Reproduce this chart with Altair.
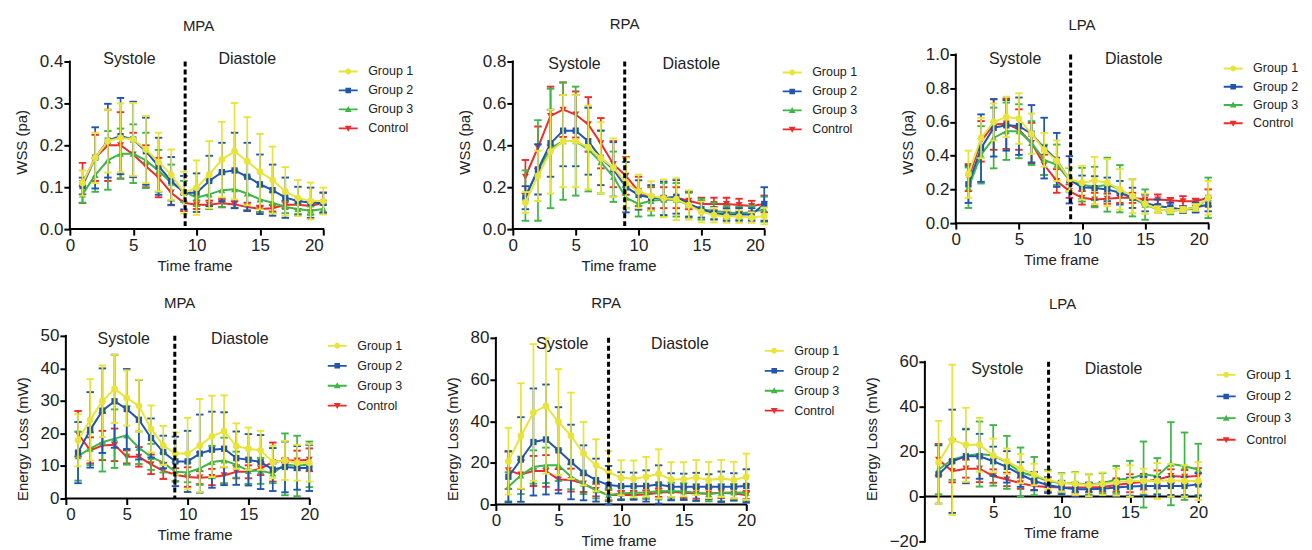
import altair as alt
import pandas as pd

FONT = "Liberation Sans"
TXT = "#222222"

FRAMES = list(range(1, 21))
SERIES = ["Group 1", "Group 2", "Group 3", "Control"]
COLORS = ["#E8E43C", "#2256AE", "#3FB548", "#EE2B2B"]
SHAPES = ["circle", "square", "triangle-up", "triangle-down"]
SIZES = [46, 40, 50, 50]

# ---------------- WSS, MPA ----------------
wss_mpa_g1 = [0.110, 0.170, 0.210, 0.218, 0.214, 0.190, 0.160, 0.130, 0.087, 0.099, 0.130, 0.166, 0.186, 0.162, 0.137, 0.117, 0.090, 0.074, 0.067, 0.067]
wss_mpa_g1_sd = [0.030, 0.060, 0.075, 0.082, 0.087, 0.080, 0.070, 0.060, 0.050, 0.065, 0.080, 0.090, 0.115, 0.105, 0.090, 0.080, 0.058, 0.043, 0.044, 0.032]
wss_mpa_g2 = [0.103, 0.170, 0.211, 0.222, 0.214, 0.186, 0.150, 0.115, 0.087, 0.087, 0.115, 0.136, 0.140, 0.125, 0.107, 0.093, 0.075, 0.067, 0.063, 0.063]
wss_mpa_g2_sd = [0.020, 0.073, 0.088, 0.091, 0.090, 0.080, 0.068, 0.057, 0.040, 0.046, 0.060, 0.070, 0.090, 0.081, 0.071, 0.061, 0.048, 0.034, 0.036, 0.024]
wss_mpa_g3 = [0.083, 0.129, 0.164, 0.180, 0.180, 0.164, 0.139, 0.111, 0.090, 0.075, 0.083, 0.093, 0.095, 0.085, 0.071, 0.063, 0.053, 0.048, 0.044, 0.048]
wss_mpa_g3_sd = [0.020, 0.040, 0.070, 0.060, 0.070, 0.066, 0.050, 0.043, 0.025, 0.020, 0.035, 0.040, 0.045, 0.040, 0.030, 0.025, 0.015, 0.012, 0.010, 0.010]
wss_mpa_ctl = [0.110, 0.170, 0.200, 0.200, 0.178, 0.150, 0.123, 0.087, 0.063, 0.058, 0.058, 0.062, 0.059, 0.053, 0.048, 0.050, 0.058, 0.058, 0.055, 0.063]
wss_mpa_ctl_sd = [0.048, 0.055, 0.085, 0.079, 0.052, 0.050, 0.047, 0.030, 0.020, 0.010, 0.010, 0.010, 0.008, 0.010, 0.008, 0.008, 0.008, 0.010, 0.010, 0.024]

# ---------------- WSS, RPA ----------------
wss_rpa_g1 = [0.127, 0.254, 0.370, 0.420, 0.420, 0.390, 0.340, 0.293, 0.220, 0.180, 0.158, 0.147, 0.143, 0.115, 0.082, 0.067, 0.060, 0.060, 0.055, 0.063]
wss_rpa_g1_sd = [0.050, 0.120, 0.200, 0.220, 0.220, 0.200, 0.170, 0.140, 0.120, 0.080, 0.070, 0.090, 0.100, 0.070, 0.050, 0.035, 0.030, 0.030, 0.025, 0.040]
wss_rpa_g2 = [0.150, 0.285, 0.410, 0.470, 0.470, 0.420, 0.340, 0.285, 0.200, 0.163, 0.150, 0.147, 0.154, 0.120, 0.095, 0.076, 0.070, 0.070, 0.070, 0.120]
wss_rpa_g2_sd = [0.055, 0.120, 0.160, 0.170, 0.170, 0.160, 0.130, 0.130, 0.120, 0.070, 0.060, 0.080, 0.080, 0.060, 0.040, 0.030, 0.030, 0.030, 0.030, 0.080]
wss_rpa_g3 = [0.160, 0.280, 0.385, 0.420, 0.420, 0.380, 0.320, 0.250, 0.150, 0.120, 0.135, 0.140, 0.140, 0.115, 0.095, 0.087, 0.080, 0.076, 0.080, 0.095]
wss_rpa_g3_sd = [0.120, 0.240, 0.285, 0.280, 0.260, 0.200, 0.150, 0.120, 0.050, 0.060, 0.070, 0.080, 0.080, 0.060, 0.050, 0.040, 0.030, 0.030, 0.030, 0.060]
wss_rpa_ctl = [0.250, 0.390, 0.540, 0.570, 0.547, 0.500, 0.410, 0.310, 0.254, 0.180, 0.150, 0.150, 0.150, 0.135, 0.120, 0.120, 0.120, 0.115, 0.110, 0.120]
wss_rpa_ctl_sd = [0.080, 0.100, 0.140, 0.130, 0.110, 0.130, 0.120, 0.110, 0.090, 0.070, 0.050, 0.050, 0.050, 0.040, 0.030, 0.030, 0.030, 0.030, 0.025, 0.040]

# ---------------- WSS, LPA ----------------
wss_lpa_g1 = [0.290, 0.505, 0.600, 0.630, 0.620, 0.530, 0.435, 0.370, 0.260, 0.240, 0.253, 0.240, 0.200, 0.160, 0.115, 0.080, 0.075, 0.080, 0.093, 0.150]
wss_lpa_g1_sd = [0.140, 0.120, 0.110, 0.120, 0.150, 0.120, 0.100, 0.120, 0.070, 0.100, 0.140, 0.140, 0.120, 0.100, 0.060, 0.020, 0.015, 0.015, 0.020, 0.100]
wss_lpa_g2 = [0.230, 0.445, 0.565, 0.580, 0.575, 0.530, 0.445, 0.375, 0.257, 0.212, 0.208, 0.200, 0.180, 0.150, 0.120, 0.100, 0.093, 0.080, 0.093, 0.110]
wss_lpa_g2_sd = [0.110, 0.200, 0.170, 0.150, 0.170, 0.170, 0.180, 0.160, 0.140, 0.070, 0.070, 0.070, 0.070, 0.060, 0.050, 0.040, 0.030, 0.020, 0.030, 0.040]
wss_lpa_g3 = [0.210, 0.405, 0.505, 0.545, 0.545, 0.475, 0.375, 0.346, 0.257, 0.228, 0.214, 0.228, 0.204, 0.150, 0.110, 0.080, 0.073, 0.080, 0.085, 0.150]
wss_lpa_g3_sd = [0.120, 0.170, 0.180, 0.170, 0.160, 0.130, 0.090, 0.120, 0.070, 0.100, 0.120, 0.160, 0.140, 0.110, 0.090, 0.020, 0.020, 0.015, 0.020, 0.120]
wss_lpa_ctl = [0.270, 0.485, 0.585, 0.590, 0.555, 0.475, 0.346, 0.250, 0.190, 0.150, 0.140, 0.145, 0.150, 0.150, 0.140, 0.140, 0.135, 0.130, 0.130, 0.150]
wss_lpa_ctl_sd = [0.080, 0.120, 0.150, 0.150, 0.120, 0.120, 0.060, 0.070, 0.040, 0.040, 0.040, 0.030, 0.030, 0.030, 0.030, 0.030, 0.015, 0.030, 0.015, 0.050]

# ---------------- Energy loss, MPA ----------------
el_mpa_g1 = [17.9, 24.2, 29.9, 33.7, 30.9, 28.5, 21.4, 16.3, 13.8, 13.8, 16.3, 19.1, 20.7, 16.1, 15.3, 14.8, 11.2, 11.7, 11.0, 11.0]
el_mpa_g1_sd = [8.0, 12.5, 11.0, 10.5, 8.5, 8.0, 7.2, 6.0, 6.5, 11.0, 14.3, 12.5, 11.0, 7.0, 6.5, 6.0, 5.0, 6.0, 5.5, 5.8]
el_mpa_g2 = [14.1, 21.1, 27.0, 29.9, 27.5, 24.2, 18.6, 14.3, 11.4, 11.4, 13.8, 15.0, 15.3, 12.4, 11.9, 11.2, 8.9, 9.7, 9.4, 9.4]
el_mpa_g2_sd = [9.4, 11.6, 13.0, 14.3, 12.3, 12.2, 6.0, 5.0, 7.6, 9.4, 12.0, 11.7, 11.2, 8.2, 7.9, 8.3, 6.6, 7.8, 6.7, 7.1]
el_mpa_g3 = [13.0, 15.3, 17.3, 18.4, 19.4, 15.6, 12.8, 11.0, 8.2, 8.0, 9.2, 11.2, 11.7, 10.4, 8.5, 8.5, 7.7, 10.5, 10.0, 10.5]
el_mpa_g3_sd = [7.5, 5.0, 9.0, 9.0, 9.0, 5.0, 4.0, 3.0, 3.0, 3.0, 5.0, 5.0, 7.0, 4.0, 4.0, 4.0, 3.0, 9.5, 9.3, 7.0]
el_mpa_ctl = [19.9, 14.8, 16.3, 16.5, 12.8, 12.8, 10.5, 8.5, 7.3, 6.6, 6.4, 6.6, 7.1, 8.2, 8.2, 9.2, 11.2, 11.7, 11.7, 11.9]
el_mpa_ctl_sd = [7.0, 4.0, 4.5, 5.0, 2.0, 3.0, 3.0, 2.5, 2.0, 3.0, 2.0, 2.5, 2.5, 2.0, 2.0, 2.0, 6.0, 0.6, 3.0, 3.5]

# ---------------- Energy loss, RPA ----------------
el_rpa_g1 = [20.8, 32.9, 44.2, 47.3, 39.6, 33.0, 24.4, 18.8, 15.6, 12.8, 12.3, 13.3, 14.7, 12.0, 12.1, 12.9, 11.7, 12.5, 11.7, 13.3]
el_rpa_g1_sd = [16.0, 25.3, 32.8, 32.5, 25.4, 20.7, 15.2, 12.5, 10.0, 8.4, 8.8, 9.5, 11.8, 8.3, 8.2, 8.4, 8.7, 8.9, 8.8, 11.1]
el_rpa_g2 = [13.3, 21.6, 30.0, 31.2, 26.0, 20.4, 15.2, 11.7, 9.3, 8.8, 8.8, 8.9, 9.6, 8.5, 8.5, 8.5, 8.5, 8.5, 8.5, 8.9]
el_rpa_g2_sd = [12.3, 20.3, 25.7, 26.4, 20.7, 17.9, 13.2, 10.3, 9.2, 6.7, 6.5, 7.5, 9.2, 6.5, 6.3, 6.7, 6.0, 7.3, 6.5, 8.0]
el_rpa_g3 = [8.5, 14.0, 18.0, 18.8, 18.8, 13.3, 10.0, 6.9, 4.5, 5.3, 5.6, 5.8, 6.4, 6.5, 6.2, 5.6, 5.0, 5.6, 5.8, 5.6]
el_rpa_g3_sd = [7.0, 9.0, 8.0, 8.5, 7.5, 6.0, 5.0, 4.0, 3.0, 3.0, 3.0, 3.0, 4.0, 4.0, 4.0, 4.0, 3.5, 4.0, 4.0, 4.0]
el_rpa_ctl = [16.4, 14.4, 16.1, 16.1, 12.0, 11.7, 10.0, 6.9, 4.5, 4.5, 4.5, 4.8, 5.6, 6.1, 5.6, 5.3, 5.3, 5.6, 5.3, 4.5]
el_rpa_ctl_sd = [9.0, 7.0, 7.2, 7.6, 5.0, 5.5, 4.0, 3.0, 2.5, 2.0, 2.0, 2.0, 2.0, 2.5, 2.5, 2.5, 2.5, 2.5, 2.5, 2.0]

# ---------------- Energy loss, LPA ----------------
el_lpa_g1 = [15.2, 25.2, 23.0, 23.0, 18.3, 15.7, 12.4, 9.8, 7.3, 6.1, 5.7, 5.1, 5.7, 6.4, 6.9, 6.9, 6.9, 7.2, 6.9, 6.9]
el_lpa_g1_sd = [18.5, 33.5, 16.5, 12.0, 7.5, 5.7, 6.5, 4.8, 4.0, 4.0, 5.0, 5.0, 5.0, 6.0, 7.0, 5.5, 8.0, 7.3, 7.0, 8.5]
el_lpa_g2 = [9.8, 15.7, 17.9, 17.9, 15.7, 13.2, 9.8, 6.9, 5.1, 4.0, 3.2, 3.2, 3.5, 4.0, 4.4, 4.7, 4.7, 4.7, 4.7, 5.4]
el_lpa_g2_sd = [13.0, 23.0, 12.0, 10.0, 6.5, 7.0, 5.5, 4.0, 3.5, 3.0, 3.0, 3.0, 3.0, 3.5, 4.0, 4.0, 4.0, 4.0, 4.0, 5.0]
el_lpa_g3 = [12.0, 16.4, 18.2, 18.9, 18.3, 15.2, 10.8, 9.1, 6.9, 5.9, 5.9, 5.4, 5.9, 7.6, 7.9, 9.8, 9.1, 14.6, 13.5, 12.0]
el_lpa_g3_sd = [11.0, 9.0, 12.0, 14.5, 13.5, 11.8, 11.0, 8.5, 5.0, 4.5, 5.0, 4.5, 4.5, 6.0, 8.0, 14.7, 8.0, 18.5, 15.0, 11.5]
el_lpa_ctl = [16.4, 11.3, 12.4, 12.4, 9.1, 7.6, 5.9, 4.7, 4.2, 4.0, 4.0, 4.0, 4.2, 5.1, 5.9, 6.6, 7.6, 9.1, 8.8, 9.1]
el_lpa_ctl_sd = [7.0, 5.0, 4.0, 6.0, 3.0, 3.0, 2.5, 2.0, 2.0, 2.0, 2.0, 2.0, 2.0, 3.0, 4.0, 3.5, 4.0, 3.0, 3.0, 3.5]

# legend symbols: line segment + marker (unit square paths)
_LINE = "M-0.95,-0.09H0.95V0.09H-0.95Z"
LEGEND_PATHS = [
    _LINE + "M0.3,0A0.3,0.3,0,1,1,-0.3,0A0.3,0.3,0,1,1,0.3,0Z",
    _LINE + "M-0.28,-0.28H0.28V0.28H-0.28Z",
    _LINE + "M0,-0.34L0.34,0.26L-0.34,0.26Z",
    _LINE + "M0,0.34L-0.34,-0.26L0.34,-0.26Z",
]

SPACING_COL = 150
SPACING_ROW = 107


def frame_df(means, sds):
    rows = []
    for s, m, d in zip(SERIES, means, sds):
        for f, mv, dv in zip(FRAMES, m, d):
            rows.append({"series": s, "frame": f, "mean": mv, "lo": mv - dv, "hi": mv + dv})
    return pd.DataFrame(rows)


def panel(title, ylabel, means, sds, yrange, yvals, yfmt, divider, sys_x, dia_x,
          core_w, core_h, pads, title_dx, title_offset, text_dy, leg_gap, leg_y, leg_row,
          xvals=(0, 5, 10, 15, 20), x_at=None):
    pad_l, pad_r, pad_t, pad_b = pads
    df = frame_df(means, sds)
    ymin, ytop = yrange
    yspan = ytop - ymin
    xmin = -pad_l * 20.0 / core_w
    xmax = 20 + pad_r * 20.0 / core_w
    ylo = ymin - pad_b * yspan / core_h
    yhi = ytop + pad_t * yspan / core_h
    x_line_y = ymin if x_at is None else x_at
    x_off = -(pad_b + (x_line_y - ymin) * core_h / yspan)
    width, height = pad_l + core_w + pad_r, pad_t + core_h + pad_b

    def X(field):
        return alt.X(f"{field}:Q", scale=alt.Scale(domain=[xmin, xmax], nice=False, zero=False),
                     axis=alt.Axis(values=list(xvals), title="Time frame", offset=x_off,
                                   format="d", domain=False, labelPadding=2, titlePadding=5))

    def Y(field):
        return alt.Y(f"{field}:Q", scale=alt.Scale(domain=[ylo, yhi], nice=False, zero=False),
                     axis=alt.Axis(values=yvals, title=ylabel, format=yfmt, offset=-pad_l, domain=False,
                                   labelPadding=1, titlePadding=10))

    layers = []
    # axis lines
    ax_df = pd.DataFrame({"x0": [0, 0], "x1": [0, 20], "y0": [ymin, x_line_y], "y1": [ytop, x_line_y]})
    layers.append(alt.Chart(ax_df).mark_rule(color="black", strokeWidth=2, strokeCap="square")
                  .encode(x=X("x0"), x2="x1", y=Y("y0"), y2="y1"))

    for i in reversed(range(len(SERIES))):
        s, c = SERIES[i], COLORS[i]
        sdf = df[df["series"] == s]
        base = alt.Chart(sdf)
        layers.append(base.mark_rule(color=c, strokeWidth=1.7).encode(x=X("frame"), y=Y("lo"), y2="hi"))
        layers.append(base.transform_fold(["lo", "hi"], as_=["end", "val"])
                      .mark_tick(orient="horizontal", color=c, thickness=1.9, size=7.5, opacity=1)
                      .encode(x=X("frame"), y=Y("val")))
        layers.append(base.mark_line(color=c, strokeWidth=2).encode(x=X("frame"), y=Y("mean")))
        layers.append(base.mark_point(filled=True, shape=SHAPES[i], size=SIZES[i], color=c, opacity=1)
                      .encode(x=X("frame"), y=Y("mean")))

    div_df = pd.DataFrame({"x": [divider], "top": [ytop], "zero": [0]})
    layers.append(alt.Chart(div_df).mark_rule(color="black", strokeWidth=3, strokeDash=[5, 3])
                  .encode(x=X("x"), y=Y("top"), y2="zero"))

    txt_df = pd.DataFrame({"label": ["Systole", "Diastole"], "x": [sys_x, dia_x], "y": [ytop, ytop]})
    layers.append(alt.Chart(txt_df).mark_text(fontSize=16, font=FONT, color=TXT, baseline="middle", dy=text_dy)
                  .encode(x=X("x"), y=Y("y"), text="label:N"))

    legend = alt.Legend(title=None, orient="none", legendX=pad_l + core_w + leg_gap, legendY=pad_t + leg_y,
                        labelFont=FONT, labelFontSize=12.5, labelColor=TXT, symbolSize=400,
                        symbolStrokeWidth=0, symbolOpacity=1, labelOffset=10, rowPadding=leg_row, padding=0)
    layers.append(alt.Chart(df).transform_filter("false")
                  .mark_point(filled=True, opacity=1)
                  .encode(x=X("frame"), y=Y("mean"),
                          color=alt.Color("series:N", scale=alt.Scale(domain=SERIES, range=COLORS), legend=legend),
                          shape=alt.Shape("series:N", scale=alt.Scale(domain=SERIES, range=LEGEND_PATHS), legend=legend)))

    dx = pad_l + core_w / 2 + title_dx - width / 2
    return alt.layer(*layers).properties(
        width=width, height=height,
        title=alt.TitleParams(title, fontSize=15, fontWeight="normal", font=FONT, color=TXT,
                              anchor="middle", frame="group", dx=dx, offset=title_offset),
    )


# pads = (left, right, top, bottom) in pixels around each plot's axis box
p1 = panel("MPA", "WSS (pa)", [wss_mpa_g1, wss_mpa_g2, wss_mpa_g3, wss_mpa_ctl],
           [wss_mpa_g1_sd, wss_mpa_g2_sd, wss_mpa_g3_sd, wss_mpa_ctl_sd],
           [0, 0.4], [0, 0.1, 0.2, 0.3, 0.4], ".1f", 9.1, 4.7, 14.0,
           254, 168, (4, 0, 7, 0), 2, 18, -2, 15, 0, 2)
p2 = panel("RPA", "WSS (pa)", [wss_rpa_g1, wss_rpa_g2, wss_rpa_g3, wss_rpa_ctl],
           [wss_rpa_g1_sd, wss_rpa_g2_sd, wss_rpa_g3_sd, wss_rpa_ctl_sd],
           [0, 0.8], [0, 0.2, 0.4, 0.6, 0.8], ".1f", 8.9, 4.9, 14.2,
           252, 168, (40, 0, 7, 0), -14, 21, 3, 18, 1, 2)
p3 = panel("LPA", "WSS (pa)", [wss_lpa_g1, wss_lpa_g2, wss_lpa_g3, wss_lpa_ctl],
           [wss_lpa_g1_sd, wss_lpa_g2_sd, wss_lpa_g3_sd, wss_lpa_ctl_sd],
           [0, 1.0], [0, 0.2, 0.4, 0.6, 0.8, 1.0], ".1f", 9.1, 4.7, 14.1,
           253, 169, (42, 0, 0, 6), 0, 13, 5, 15, 4, 1.3)
p4 = panel("MPA", "Energy Loss (mW)", [el_mpa_g1, el_mpa_g2, el_mpa_g3, el_mpa_ctl],
           [el_mpa_g1_sd, el_mpa_g2_sd, el_mpa_g3_sd, el_mpa_ctl_sd],
           [0, 50], [0, 10, 20, 30, 40, 50], "d", 8.95, 4.75, 14.3,
           244, 163, (0, 14, 0, 43), -8, 16, 3, 18, 0, 3)
p5 = panel("RPA", "Energy Loss (mW)", [el_rpa_g1, el_rpa_g2, el_rpa_g3, el_rpa_ctl],
           [el_rpa_g1_sd, el_rpa_g2_sd, el_rpa_g3_sd, el_rpa_ctl_sd],
           [0, 80], [0, 20, 40, 60, 80], "d", 9.0, 5.3, 14.7,
           251, 167, (23, 18, 2, 37), -15, 18, 6, 18, 3, 3)
p6 = panel("LPA", "Energy Loss (mW)", [el_lpa_g1, el_lpa_g2, el_lpa_g3, el_lpa_ctl],
           [el_lpa_g1_sd, el_lpa_g2_sd, el_lpa_g3_sd, el_lpa_ctl_sd],
           [-20, 60], [-20, 0, 20, 40, 60], "d", 9.05, 5.3, 13.8,
           274, 180, (11, 10, 26, 0), 1, 24, 7, 18, 3, 4.7, xvals=(5, 10, 15, 20), x_at=0)

chart = alt.concat(p1, p2, p3, p4, p5, p6, columns=3, bounds="flush", align="none",
                   spacing={"row": SPACING_ROW, "column": SPACING_COL})
chart = chart.resolve_scale(x="independent", y="independent", color="independent", shape="independent") \
             .resolve_legend(color="independent", shape="independent")
chart = chart.properties(padding={"left": 6, "top": 8, "right": 5, "bottom": 0})
chart = chart.configure_view(stroke=None).configure_axis(
    grid=False, domainColor="#000000", tickColor="#000000", domainWidth=2, tickWidth=2,
    tickSize=6, labelFont=FONT, labelFontSize=17, labelColor=TXT,
    titleFont=FONT, titleFontSize=15, titleFontWeight="normal", titleColor=TXT,
)

chart.save("out.html", embed_options={"renderer": "svg", "actions": False})
